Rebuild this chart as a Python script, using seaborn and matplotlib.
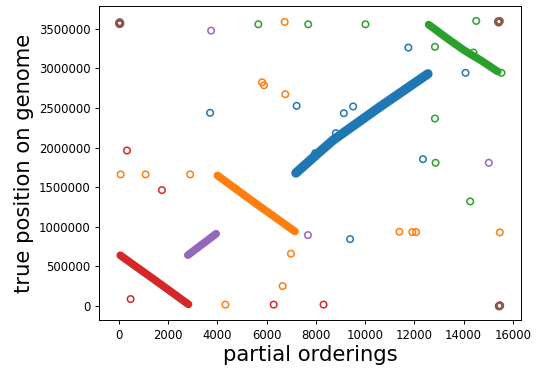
import numpy as np
import pandas as pd
import matplotlib
matplotlib.use('Agg')
import matplotlib.pyplot as plt
import seaborn as sns

# dense runs of points (read along the centre of each band)
red_x = [53, 1450, 2822]
red_y = [640000, 330000, 21000]
purple_x = [2797, 3500, 3945]
purple_y = [643000, 808000, 913000]
orange_x = [3998, 5600, 7148]
orange_y = [1649000, 1285000, 942000]
blue_x = [7188, 8000, 8700, 10600, 12552]
blue_y = [1680000, 1905000, 2095000, 2515000, 2932000]
green_x = [12581, 13363, 14040, 14717, 15390]
green_y = [3554000, 3374000, 3226000, 3100000, 2961000]

# scattered points
blue_ox = [3702, 7217, 8810, 7971, 11758, 14081, 9135, 9513, 12350, 9390]
blue_oy = [2440000, 2528000, 2183000, 1930000, 3264000, 2945000, 2435000, 2520000, 1855000, 845000]
orange_ox = [65, 1080, 2890, 6730, 5810, 5891, 6756, 6986, 6648, 4323, 11392, 11919, 12067, 15472]
orange_oy = [1662000, 1662000, 1662000, 3588000, 2826000, 2788000, 2675000, 661000, 252000, 18000,
             938000, 934000, 934000, 930000]
green_ox = [5661, 7688, 10014, 14515, 12837, 14405, 15540, 12837, 12865, 14271]
green_oy = [3558000, 3558000, 3558000, 3601000, 3273000, 3201000, 2945000, 2368000, 1809000, 1321000]
red_ox = [324, 1743, 470, 6284, 8311]
red_oy = [1964000, 1464000, 88000, 18000, 18000]
purple_ox = [3742, 7675, 15026]
purple_oy = [3478000, 896000, 1809000]
brown_ox = [0, 30, 55, 15, 45, 15400, 15440, 15470, 15420, 15460, 15430, 15470, 15450, 15490]
brown_oy = [3575000, 3585000, 3570000, 3560000, 3565000, 3595000, 3585000, 3600000, 3580000,
            3592000, 0, 10000, -5000, 5000]

colors = sns.color_palette('tab10')

fig = plt.figure(figsize=(5.37, 3.70), dpi=100)
ax = fig.add_axes([0.185, 0.135, 0.785, 0.849])

runs = [(red_x, red_y, colors[3], 5.6), (purple_x, purple_y, colors[4], 5.6),
        (orange_x, orange_y, colors[1], 5.6), (blue_x, blue_y, colors[0], 6.8),
        (green_x, green_y, colors[2], 5.6)]
for xs, ys, c, w in runs:
    sns.lineplot(x=xs, y=ys, sort=False, color=c, lw=w, solid_capstyle='round',
                 solid_joinstyle='round', ax=ax)

outliers = [(blue_ox, blue_oy, colors[0]), (orange_ox, orange_oy, colors[1]),
            (green_ox, green_oy, colors[2]), (red_ox, red_oy, colors[3]),
            (purple_ox, purple_oy, colors[4]), (brown_ox, brown_oy, colors[5])]
for xs, ys, c in outliers:
    sns.scatterplot(x=xs, y=ys, color=c, facecolor='none', edgecolor=c, s=22, linewidth=1.1, ax=ax)

ax.set_xlim(-800, 16330)
ax.set_ylim(-177000, 3790000)
ax.set_xticks(np.arange(0, 16001, 2000))
ax.set_yticks(np.arange(0, 3500001, 500000))
ax.ticklabel_format(style='plain', useOffset=False)
ax.tick_params(labelsize=8.4, length=3, width=0.7)
for sp in ax.spines.values():
    sp.set_linewidth(0.7)
ax.set_xlabel('partial orderings', fontsize=15.2, labelpad=2)
ax.set_ylabel('true position on genome', fontsize=15.2, labelpad=3)

fig.savefig('out.png', dpi=100)
